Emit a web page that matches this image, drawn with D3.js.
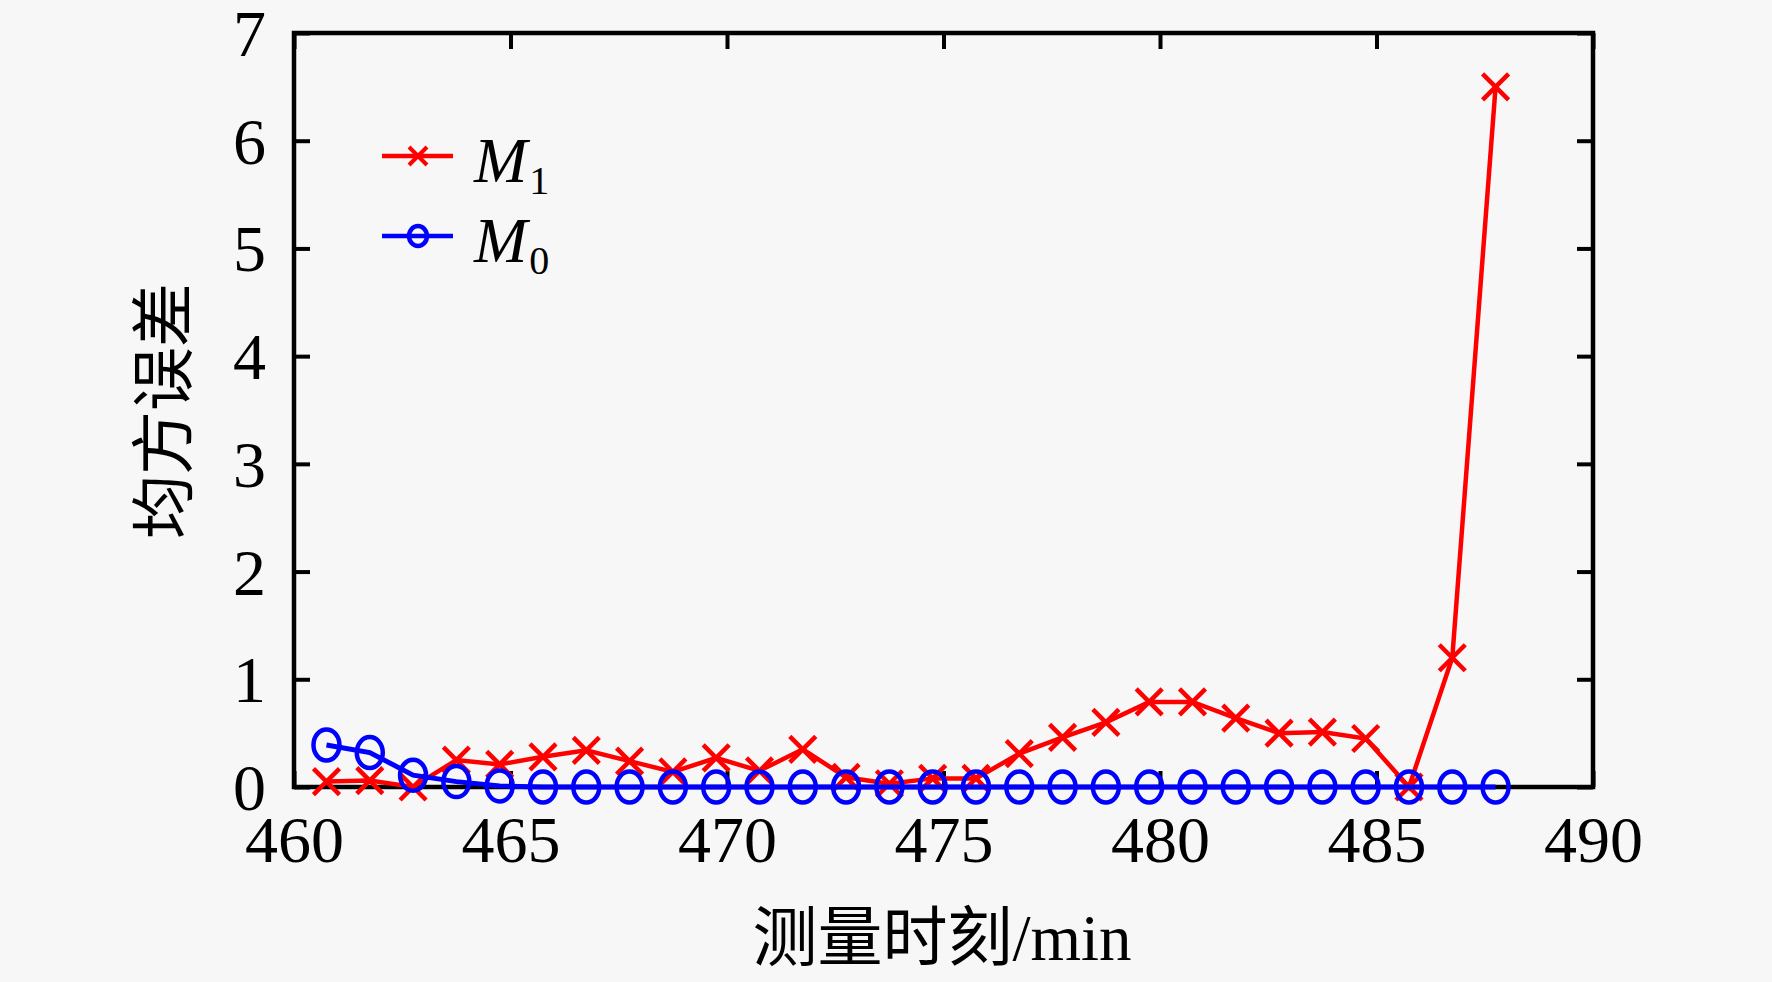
<!DOCTYPE html>
<html>
<head>
<meta charset="utf-8">
<script src="https://cdn.jsdelivr.net/npm/d3@7"></script>
<style>
html,body{margin:0;padding:0;background:#f7f7f7;}
svg{display:block;}
</style>
</head>
<body>
<svg id="chart" width="1772" height="982"></svg>
<script>
// ---- data ----
const times = [460.75,461.75,462.75,463.75,464.75,465.75,466.75,467.75,468.75,469.75,
               470.75,471.75,472.75,473.75,474.75,475.75,476.75,477.75,478.75,479.75,
               480.75,481.75,482.75,483.75,484.75,485.75,486.75,487.75];
const m1 = [0.05,0.06,0.00,0.25,0.21,0.28,0.34,0.24,0.14,0.27,
            0.15,0.35,0.09,0.03,0.08,0.08,0.31,0.46,0.60,0.79,
            0.79,0.64,0.50,0.51,0.45,0.00,1.20,6.50];
const m0 = [0.39,0.32,0.11,0.05,0.01,0.00,0.00,0.00,0.00,0.00,
            0.00,0.00,0.00,0.00,0.00,0.00,0.00,0.00,0.00,0.00,
            0.00,0.00,0.00,0.00,0.00,0.00,0.00,0.00];
const xTicks = [460,465,470,475,480,485,490];
const yTicks = [0,1,2,3,4,5,6,7];
const seriesNames = ["M1","M0"];
const xTitle = "测量时刻/min";
const yTitle = "均方误差";

// ---- layout ----
const L = 294, R = 1593, T = 33, B = 787;
const svg = d3.select("#chart");
const x = d3.scaleLinear().domain([460,490]).range([L,R]);
const y = d3.scaleLinear().domain([0,7]).range([B,T]);
const serif = "'Liberation Serif','Times New Roman',serif";
const RED = "#ff0000", BLUE = "#0000ff";
const tickLen = 16;

// axes (inward ticks on all sides)
const gB = svg.append("g").attr("transform",`translate(0,${B})`)
  .call(d3.axisBottom(x).tickValues(xTicks).tickSize(-tickLen).tickPadding(28).tickFormat(d3.format("d")));
const gT = svg.append("g").attr("transform",`translate(0,${T})`)
  .call(d3.axisTop(x).tickValues(xTicks).tickSize(-tickLen).tickFormat(""));
const gL = svg.append("g").attr("transform",`translate(${L},0)`)
  .call(d3.axisLeft(y).tickValues(yTicks).tickSize(-tickLen).tickPadding(28).tickFormat(d3.format("d")));
const gR = svg.append("g").attr("transform",`translate(${R},0)`)
  .call(d3.axisRight(y).tickValues(yTicks).tickSize(-tickLen).tickFormat(""));
[gB,gT,gL,gR].forEach(g=>{
  g.select(".domain").remove();
  g.selectAll(".tick line").attr("stroke","#000").attr("stroke-width",4);
  g.selectAll(".tick text").attr("fill","#000").style("font-family",serif).style("font-size","66px");
});
gB.selectAll(".tick text").attr("dy","0.71em");
gL.selectAll(".tick text").attr("dy","0.34em");

// frame
svg.append("rect").attr("x",L).attr("y",T).attr("width",R-L).attr("height",B-T)
  .attr("fill","none").attr("stroke","#000").attr("stroke-width",4.5);

// series
function drawX(g, cx, cy, h, color, sw){
  g.append("path")
    .attr("d",`M${cx-h},${cy-h}L${cx+h},${cy+h}M${cx-h},${cy+h}L${cx+h},${cy-h}`)
    .attr("stroke",color).attr("stroke-width",sw).attr("fill","none");
}
const line = d3.line().x(d=>x(d[0])).y(d=>y(d[1]));
const d1 = times.map((t,i)=>[t,m1[i]]);
const d0 = times.map((t,i)=>[t,m0[i]]);

const g1 = svg.append("g");
g1.append("path").datum(d1).attr("d",line).attr("fill","none").attr("stroke",RED).attr("stroke-width",4.5);
d1.forEach(d=>drawX(g1, x(d[0]), y(d[1]), 13, RED, 4.5));

const g0 = svg.append("g");
g0.append("path").datum(d0).attr("d",line).attr("fill","none").attr("stroke",BLUE).attr("stroke-width",5);
g0.selectAll("ellipse").data(d0).join("ellipse")
  .attr("cx",d=>x(d[0])).attr("cy",d=>y(d[1])).attr("rx",13).attr("ry",15.5)
  .attr("fill","none").attr("stroke",BLUE).attr("stroke-width",4.5);

// legend
const lg = svg.append("g");
lg.append("line").attr("x1",382).attr("x2",453).attr("y1",156).attr("y2",156).attr("stroke",RED).attr("stroke-width",4.5);
drawX(lg, 418, 156, 9, RED, 4);
lg.append("line").attr("x1",382).attr("x2",453).attr("y1",236).attr("y2",236).attr("stroke",BLUE).attr("stroke-width",4.5);
lg.append("ellipse").attr("cx",418).attr("cy",236).attr("rx",9).attr("ry",10).attr("fill","none").attr("stroke",BLUE).attr("stroke-width",4.5);

[[seriesNames[0],182],[seriesNames[1],262]].forEach(([nm,by])=>{
  const t = lg.append("text").attr("x",474).attr("y",by).style("font-family",serif).attr("fill","#000");
  t.append("tspan").style("font-style","italic").style("font-size","64px").text(nm[0]);
  t.append("tspan").style("font-size","40px").attr("dx",2).attr("dy",12).text(nm.slice(1));
});

// titles
svg.append("text").attr("x",942).attr("y",960).attr("text-anchor","middle")
  .style("font-family",serif+",'Noto Sans CJK SC'").style("font-size","65px").attr("fill","#000").text(xTitle);
svg.append("text").attr("transform","translate(186,411) rotate(-90)").attr("text-anchor","middle")
  .style("font-family","'Noto Sans CJK SC',sans-serif").style("font-size","64px").attr("fill","#000").text(yTitle);
</script>
</body>
</html>
